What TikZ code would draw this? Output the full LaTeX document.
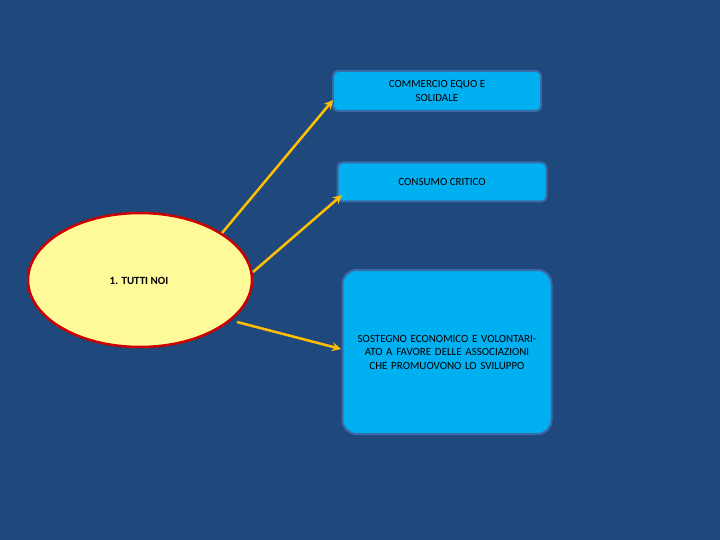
\documentclass[tikz,border=0pt]{standalone}
\usepackage{fontspec}
\setmainfont{Carlito}
\usetikzlibrary{shapes.geometric,arrows.meta}
\definecolor{bg}{HTML}{1F497D}
\definecolor{boxc}{HTML}{00B0F0}
\definecolor{boxb}{HTML}{3A6BA8}
\definecolor{arr}{HTML}{FFC000}
\begin{document}
\begin{tikzpicture}[x=1pt,y=-1pt,
  bx/.style={draw=boxb,line width=2pt,fill=boxc,rounded corners=5pt,font=\fontsize{11}{13.5}\selectfont,align=center,inner sep=0pt},
  ar/.style={draw=arr,line width=2.5pt,-{Stealth[length=9pt,width=9pt]}}]
\useasboundingbox (0,0) rectangle (720,540);
\fill[bg] (0,0) rectangle (720,540);
\node[draw=red!80!black,line width=2.5pt,fill=yellow!40,ellipse,minimum width=224pt,minimum height=134pt,inner sep=0pt] (e) at (140,280) {};
\node[font=\bfseries\fontsize{11}{13}\selectfont] (t) at (139,281) {1. TUTTI NOI};
\node[bx,minimum width=208pt,minimum height=40pt] (b1) at (437,91) {COMMERCIO EQUO E\\SOLIDALE};
\node[bx,minimum width=209pt,minimum height=39pt] (b2) at (442,182) {CONSUMO CRITICO};
\node[bx,rounded corners=14pt,minimum width=209pt,minimum height=164pt,text width=180pt] (b3) at (447,352) {SOSTEGNO ECONOMICO E VOLONTARIATO A FAVORE DELLE ASSOCIAZIONI CHE PROMUOVONO LO SVILUPPO\\[20pt]};
\coordinate (s1) at (222,233);
\coordinate (s2) at (253,272);
\coordinate (s3) at (237,322);
\coordinate (d1) at (333,100);
\coordinate (d2) at (342,195);
\coordinate (d3) at (341,349);
\draw[ar] (s1) -- (d1);
\draw[ar] (s2) -- (d2);
\draw[ar] (s3) -- (d3);
\end{tikzpicture}
\end{document}
